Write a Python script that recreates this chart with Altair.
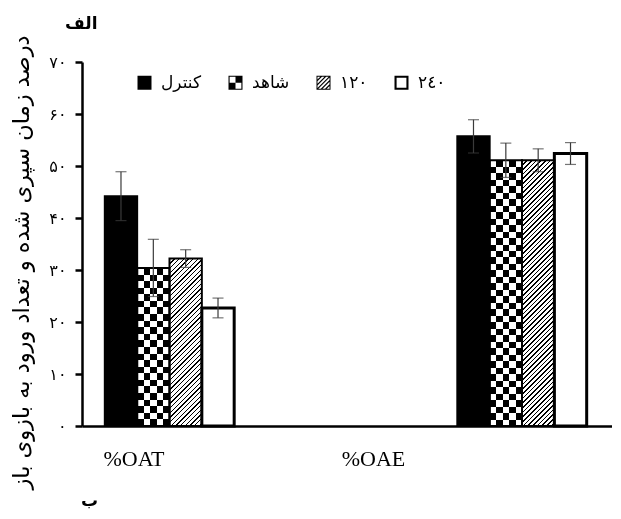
import math
import altair as alt
import pandas as pd

# ---------------- data ----------------
groups = ["%OAT", "%OAE"]
series = ["کنترل", "شاهد", "۱۲۰", "۲٤۰"]
oat_mean = [44.2, 30.4, 32.2, 22.7]
oat_se = [4.7, 5.5, 1.7, 1.9]
oae_mean = [55.7, 51.1, 51.1, 52.4]
oae_se = [3.2, 3.3, 2.2, 2.1]
y_ticks = [0, 10, 20, 30, 40, 50, 60, 70]
y_tick_labels = ["۰", "۱۰", "۲۰", "۳۰", "۴۰", "۵۰", "۶۰", "۷۰"]
y_title = "درصد زمان سپری شده و تعداد ورود به بازوی باز"
panel_top = "الف"
panel_bottom = "ب"

rows = []
for g, means, ses in [(groups[0], oat_mean, oat_se), (groups[1], oae_mean, oae_se)]:
    for s, m, e in zip(series, means, ses):
        rows.append({"group": g, "series": s, "mean": m, "lo": m - e, "hi": m + e})
df = pd.DataFrame(rows)

# ---------------- layout / style ----------------
W_PLOT, H_PLOT = 530, 364
Y_MAX = 70
PAD_IN, PAD_OUT, ALIGN = 0.633, 0.06826, 0.474
step = W_PLOT / (len(groups) - PAD_IN + 2 * PAD_OUT)
BAR_W = step * (1 - PAD_IN) / len(series)
FONT = "DejaVu Sans"


def px_h(v):
    return v / Y_MAX * H_PLOT


def band_stops(periods, duty, on, off):
    stops = []
    k = 0
    while k < periods:
        a = k / periods
        b = min(1.0, (k + duty) / periods)
        c = min(1.0, (k + 1) / periods)
        stops += [(a, on), (b, on), (b, off), (c, off)]
        k += 1
    return [{"offset": round(o, 6), "color": col} for o, col in stops]


def linear(stops, x1, y1, x2, y2):
    return {"gradient": "linear", "stops": stops,
            "x1": x1, "y1": y1, "x2": x2, "y2": y2}


# checker: columns (horizontal gradient) + rows (vertical gradient, difference blend)
CELL = 6.5
col_grad = linear(band_stops(2.5, 0.5, "black", "white"), 0, 0, 1, 0)


def row_grad(value):
    n_rows = max(2, round(px_h(value) / CELL))
    return linear(band_stops(n_rows / 2, 0.5, "white", "black"), 0, 0, 0, 1)


def hatch_grad(value, period=3.3, duty=0.3):
    W, H = BAR_W, px_h(value)
    d = W * W + H * H
    x2 = (W + H) * W / d
    y2 = (W + H) * H / d
    periods = (W + H) / (math.sqrt(2) * period)
    return linear(band_stops(periods, duty, "black", "white"), 0, 0, x2, y2)


# legend symbol paths (unit square -1..1), polygons only
def fmt(v):
    return "0" if abs(v) < 1e-9 else f"{v:.3f}".rstrip("0").rstrip(".")


def poly_path(poly):
    return "M" + "L".join(f"{fmt(x)},{fmt(y)}" for x, y in poly) + "Z"


def frame(t):
    s = 1 - t
    outer = [(-1, -1), (1, -1), (1, 1), (-1, 1)]
    inner = [(-s, -s), (-s, s), (s, s), (s, -s)]
    return poly_path(outer) + poly_path(inner)


def clip(poly, a, b, c):
    out = []
    n = len(poly)
    for i in range(n):
        p, q = poly[i], poly[(i + 1) % n]
        fp = a * p[0] + b * p[1] - c
        fq = a * q[0] + b * q[1] - c
        if fp <= 0:
            out.append(p)
        if (fp < 0 < fq) or (fq < 0 < fp):
            t = fp / (fp - fq)
            out.append((p[0] + t * (q[0] - p[0]), p[1] + t * (q[1] - p[1])))
    return out


def hatch_symbol(t=0.14, spacing=0.6, w=0.24):
    s = 1 - t
    sq = [(-s, -s), (s, -s), (s, s), (-s, s)]
    parts = [frame(t)]
    c = -2 * spacing
    while c <= 2 * spacing + 1e-9:
        p = clip(sq, 1, 1, c + w / 2)
        p = clip(p, -1, -1, -(c - w / 2))
        if len(p) >= 3:
            parts.append(poly_path(p))
        c += spacing
    return "".join(parts)


def checker_symbol(t=0.16):
    s = 1 - t
    q1 = [(0, -s), (s, -s), (s, 0), (0, 0)]
    q2 = [(-s, 0), (0, 0), (0, s), (-s, s)]
    return frame(t) + poly_path(q1) + poly_path(q2)


sym_paths = ["M-1,-1L1,-1L1,1L-1,1Z", checker_symbol(), hatch_symbol(), frame(0.3)]

# ---------------- encodings ----------------
x_axis = alt.Axis(
    title=panel_bottom, titleFont=FONT, titleFontSize=17, titleFontWeight="bold",
    titleColor="black", titleX=7, titleY=79, titleAlign="center",
    titleBaseline="alphabetic",
    labelFont="Liberation Serif", labelFontSize=22, labelColor="black", labelAngle=0,
    labelPadding=22,
    labelOffset={"condition": {"test": f"datum.value === '{groups[0]}'", "value": -35.5},
                 "value": -148.5},
    ticks=False, tickSize=0, domainColor="black", domainWidth=2.5,
)
label_expr = "[" + ",".join(f"'{t}'" for t in y_tick_labels) + "][round(datum.value / 10)]"
y_axis = alt.Axis(
    title=y_title, titleFont=FONT, titleFontSize=22.5, titleFontWeight="normal",
    titleColor="black", titleAngle=-90, titleX=-61, titleY=200,
    titleAlign="center", titleBaseline="middle",
    values=y_ticks, labelExpr=label_expr, labelFont=FONT, labelFontSize=16,
    labelColor="black", labelPadding=9, tickSize=7, tickWidth=2.5, tickColor="black",
    domainColor="black", domainWidth=2.5, grid=False,
)
y_scale = alt.Scale(domain=[0, Y_MAX], nice=False, zero=True)

X = alt.X("group:N", sort=groups, axis=x_axis,
          scale=alt.Scale(paddingInner=PAD_IN, paddingOuter=PAD_OUT, align=ALIGN))
XO = alt.XOffset("series:N", sort=series,
                 scale=alt.Scale(paddingInner=0, paddingOuter=0))
Y = alt.Y("mean:Q", scale=y_scale, axis=y_axis)

base = alt.Chart(df).encode(x=X, xOffset=XO)

# points only to build the legend (covered by the opaque bars drawn above them)
legend_pts = base.mark_point(filled=True, color="black", size=196, opacity=1).encode(
    y=alt.Y("mid:Q", scale=y_scale, axis=y_axis),
    shape=alt.Shape(
        "series:N", sort=series,
        scale=alt.Scale(domain=series, range=sym_paths),
        legend=alt.Legend(
            title=None, orient="none", legendX=54, legendY=12, direction="horizontal",
            symbolSize=196, symbolFillColor="black", symbolStrokeWidth=0,
            symbolOpacity=1,
            labelFont=FONT, labelFontSize=17, labelColor="black", labelOffset=8,
            columnPadding=25, padding=0,
        ),
    ),
).transform_calculate(mid="datum.mean / 2")

black_bars = base.mark_bar(fill="black").encode(y=Y).transform_filter(
    alt.datum.series == series[0])
white_bars = base.mark_bar(fill="white").encode(y=Y).transform_filter(
    alt.datum.series != series[0])

checker_cols = base.mark_bar(fill=col_grad).encode(y=Y).transform_filter(
    alt.datum.series == series[1])

layers = [legend_pts, black_bars, white_bars, checker_cols]
for g, means in [(groups[0], oat_mean), (groups[1], oae_mean)]:
    layers.append(
        base.mark_bar(fill=row_grad(means[1]), blend="difference").encode(y=Y)
        .transform_filter((alt.datum.series == series[1]) & (alt.datum.group == g))
    )
    layers.append(
        base.mark_bar(fill=hatch_grad(means[2])).encode(y=Y)
        .transform_filter((alt.datum.series == series[2]) & (alt.datum.group == g))
    )

outline = base.mark_bar(fill="white", fillOpacity=0, stroke="black",
                        strokeWidth=2).encode(y=Y).transform_filter(
    alt.datum.series != series[3])
outline_w = base.mark_bar(fill="white", fillOpacity=0, stroke="black",
                          strokeWidth=3).encode(y=Y).transform_filter(
    alt.datum.series == series[3])
err_rule = base.mark_rule(color="#3a3a3a", strokeWidth=1.2).encode(
    y=alt.Y("lo:Q", scale=y_scale, axis=y_axis), y2="hi:Q")
err_lo = base.mark_tick(color="#3a3a3a", thickness=1.2, size=11).encode(
    y=alt.Y("lo:Q", scale=y_scale, axis=y_axis))
err_hi = base.mark_tick(color="#3a3a3a", thickness=1.2, size=11).encode(
    y=alt.Y("hi:Q", scale=y_scale, axis=y_axis))

layers += [outline, outline_w, err_rule, err_lo, err_hi]

chart = alt.layer(*layers).properties(
    width=W_PLOT, height=H_PLOT,
    background="white",
    autosize=alt.AutoSizeParams(type="none"),
    padding={"left": 74, "top": 54, "right": 0, "bottom": 85},
    title=alt.TitleParams(text=panel_top, anchor="start", frame="group", font=FONT,
                          fontSize=17, fontWeight="bold", color="black", dx=-17,
                          offset=2),
).configure_view(strokeWidth=0)

chart.save("out.html", embed_options={"renderer": "svg", "actions": False})
